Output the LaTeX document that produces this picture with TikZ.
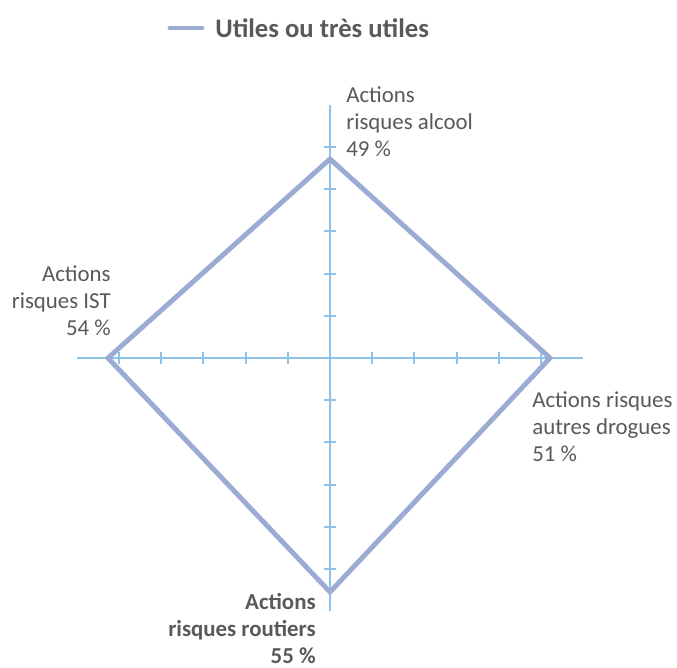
\documentclass[tikz,border=0pt]{standalone}
\usepackage{fontspec}
\setmainfont{Carlito}
\usetikzlibrary{positioning}
\definecolor{axisblue}{HTML}{8DC3E8}
\definecolor{serie}{HTML}{9CABD3}
\definecolor{txtgray}{HTML}{595959}
\tikzset{
  lbl/.style={inner sep=0pt, text=txtgray, font=\fontsize{13}{15.6}\selectfont},
  axe/.style={axisblue, line width=1.1pt},
  courbe/.style={serie, line width=2.8pt}
}

\begin{document}
\begin{tikzpicture}[x=0.02cm, y=-0.02cm]
\useasboundingbox (0,0) rectangle (677,667);
% axes
\coordinate (o) at (330,358);
\coordinate (gauche) at (77,358);
\coordinate (droite) at (583,358);
\coordinate (haut) at (330,105);
\coordinate (bas) at (330,611);
\draw[axe] (gauche) -- (droite);
\draw[axe] (haut) -- (bas);
\foreach \k in {1,...,5} {
  \draw[axe] ([shift={(42.2*\k,-6)}]o) -- ++(0,12);
  \draw[axe] ([shift={(-42.2*\k,-6)}]o) -- ++(0,12);
  \draw[axe] ([shift={(-6,42.2*\k)}]o) -- ++(12,0);
  \draw[axe] ([shift={(-6,-42.2*\k)}]o) -- ++(12,0);
}
% serie
\coordinate (alcool) at (330,159);
\coordinate (drogues) at (550,358);
\coordinate (routiers) at (330,592);
\coordinate (ist) at (108,358);
\draw[courbe] (alcool) -- (drogues) -- (routiers) -- (ist) -- cycle;
% legende
\coordinate (leg1) at (170,28);
\coordinate (leg2) at (202,28);
\draw[courbe, line cap=round] (leg1) -- (leg2);
\node[lbl, anchor=west, font=\fontsize{15.2}{18}\selectfont\bfseries] (legende) at (215,28) {Utiles ou très utiles};
% etiquettes
\node[lbl, anchor=north west, align=left] (lab-alcool) at (346,86) {Actions\\risques alcool\\49 \%};
\node[lbl, anchor=north west, align=left] (lab-drogues) at (532,391) {Actions risques\\autres drogues\\51 \%};
\node[lbl, anchor=north east, align=right] (lab-ist) at (111,265) {Actions\\risques IST\\54 \%};
\node[lbl, anchor=north east, align=right, font=\fontsize{13}{15.3}\selectfont\bfseries] (lab-routiers) at (316,593) {Actions\\risques routiers\\55 \%};
\end{tikzpicture}
\end{document}
